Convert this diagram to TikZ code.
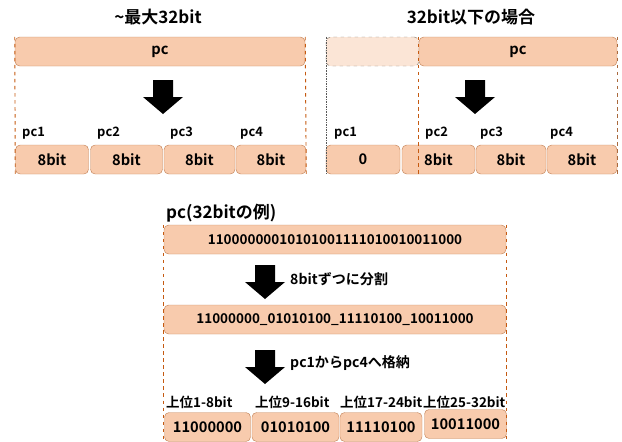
\documentclass[tikz,border=0pt]{standalone}
\usepackage{fontspec}
\setmainfont{Noto Sans CJK JP}[BoldFont={Noto Sans CJK JP Bold}]
\usetikzlibrary{positioning}
\definecolor{boxfill}{HTML}{F8CBAD}
\definecolor{boxline}{HTML}{C5865C}
\definecolor{fadefill}{HTML}{FBE5D6}
\definecolor{guide}{HTML}{C55A11}
\begin{document}
\begin{tikzpicture}[x=0.03cm,y=-0.03cm,
        bsty/.style={draw=boxline,fill=boxfill,rounded corners=0.14cm,inner sep=0pt,
            minimum height=0.87cm,font=\bfseries\fontsize{12.5}{14}\selectfont},
        bwid/.style={minimum width=#1*0.03cm},
        tsty/.style={font=\bfseries\fontsize{14.5}{17}\selectfont},
        lsty/.style={anchor=west,inner sep=0pt,font=\bfseries\fontsize{11}{13}\selectfont},
        usty/.style={anchor=west,inner sep=0pt,font=\bfseries\fontsize{11.5}{13}\selectfont},
        gsty/.style={draw=guide,dashed,thick},
        pics/downarrow/.style={code={
            \fill (-10,0) -- (10,0) -- (10,17) -- (20,17) -- (0,34) -- (-20,17) -- (-10,17) -- cycle;}},
        ]
    \useasboundingbox (0,0) rectangle (622,441);

    % ~32bit
    \node (ta) at (158,17) [tsty] {\textasciitilde 最大32bit};
    \node (pcA) at (160,51.5) [bsty,bwid=290] {pc};
    \pic at (163,80) {downarrow};
    \node (a1) at (52,159.5) [bsty,bwid=73] {8bit};
    \node (a2) at (126.5,159.5) [bsty,bwid=72] {8bit};
    \node (a3) at (199.5,159.5) [bsty,bwid=71] {8bit};
    \node (a4) at (271,159.5) [bsty,bwid=70] {8bit};
    \node (la1) at (22,133) [lsty] {pc1};
    \node (la2) at (97,133) [lsty] {pc2};
    \node (la3) at (170,133) [lsty] {pc3};
    \node (la4) at (240,133) [lsty] {pc4};
    \draw[gsty] (pcA.north west) -- (a1.south west);
    \draw[gsty] (pcA.north east) -- (a4.south east);

    % 32bit以下
    \node (tb) at (471,17) [tsty] {32bit以下の場合};
    \node (fade) at (372.5,51.5) [bsty,bwid=93,fill=fadefill,draw=gray!80!brown,dashed] {};
    \node (pcB) at (518,51.5) [bsty,bwid=198] {pc};
    \pic at (475,80) {downarrow};
    \node (b1) at (363,159.5) [bsty,bwid=74] {0};
    \node (b2) at (438.5,159.5) [bsty,bwid=73] {8bit};
    \node (b3) at (511,159.5) [bsty,bwid=70] {8bit};
    \node (b4) at (582,159.5) [bsty,bwid=70] {8bit};
    \node (lb1) at (334,133) [lsty] {pc1};
    \node (lb2) at (425,133) [lsty] {pc2};
    \node (lb3) at (480,133) [lsty] {pc3};
    \node (lb4) at (550,133) [lsty] {pc4};
    \coordinate (cut) at (pcB.north west |- b2.south);
    \draw[gray!70!black,densely dotted] (fade.north west) -- (b1.south west);
    \draw[gsty] (pcB.north west) -- (cut);
    \draw[gsty,draw=guide!60!gray] (pcB.north east) -- (b4.south east);

    % 32bitの例
    \node (tc) at (166,213) [tsty,anchor=west,inner sep=0pt] {pc(32bitの例)};
    \node (c0) at (335,239.5) [bsty,bwid=342,font=\bfseries\fontsize{11.5}{13}\selectfont] {11000000010101001111010010011000};
    \pic at (265,265) {downarrow};
    \node (s1) at (290,279) [usty,font=\bfseries\fontsize{12}{14}\selectfont] {8bitずつに分割};
    \node (c1) at (335,319.5) [bsty,bwid=342,font=\bfseries\fontsize{11.5}{13}\selectfont] {11000000\_01010100\_11110100\_10011000};
    \pic at (265,350) {downarrow};
    \node (s2) at (290,363) [usty,font=\bfseries\fontsize{12}{14}\selectfont] {pc1からpc4へ格納};
    \node (d1) at (207.5,427) [bsty,bwid=86] {11000000};
    \node (d2) at (295.5,427) [bsty,bwid=87] {01010100};
    \node (d3) at (381,427) [bsty,bwid=82] {11110100};
    \node (d4) at (465.5,424) [bsty,bwid=82] {10011000};
    \node (ld1) at (166,402) [usty] {上位1-8bit};
    \node (ld2) at (255,402) [usty] {上位9-16bit};
    \node (ld3) at (340,402) [usty] {上位17-24bit};
    \node (ld4) at (423,402) [usty] {上位25-32bit};
    \draw[gsty] (c0.north west) -- (c0.north west |- d1.south);
    \draw[gsty] (c0.north east) -- (c0.north east |- d1.south);

\end{tikzpicture}
\end{document}
